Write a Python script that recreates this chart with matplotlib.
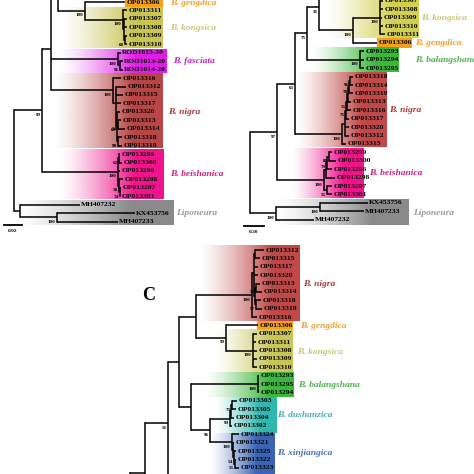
import numpy as np
import matplotlib.pyplot as plt
from matplotlib.colors import to_rgb

plt.rcParams['font.family'] = ['Liberation Serif', 'DejaVu Serif']

# ---- tree data: leaf = (name, tip_x); node = (x, support, [children]) ----
# panel A (ML tree, scale 0.02)
a_hidden = (95, "", [("", 120), ("", 120), ("", 120)])
a_gengdica = ("OP013306", 125)
a_kongsica = (123, "100", [("OP013311", 127),
                           (124, "", [("OP013307", 127), ("OP013308", 127),
                                      (125, "68", [("OP013309", 127), ("OP013310", 127)])])])
a_fasciata = (118, "100", [("ROD1015-20", 121),
                           (120, "91", [("ROD1013-20", 123), ("ROD1014-20", 123)])])
a_nigra = (113, "100", [("OP013316", 121),
                        (116, "", [("OP013312", 126), ("OP013315", 123), ("OP013317", 121),
                                   (117, "69", [("OP013320", 120),
                                                (118, "54", [("OP013313", 121), ("OP013314", 125)]),
                                                (118, "98", [("OP013318", 122), ("OP013319", 122)])])])])
a_beishanica = (118, "100", [(119, "62", [("OP013299", 120), ("OP013300", 122)]),
                             ("OP013296", 120),
                             (119, "50", [("OP013298", 123),
                                          (120, "74", [("OP013297", 121), ("OP013301", 120)])])])
a_lipo = (20, "", [("MH407232", 80), (57, "100", [("KX453756", 135), ("MH407233", 118)])])
tree_a = (14, "", [(42, "99", [(51, "", [(58, "", [a_hidden, (85, "100", [a_gengdica, a_kongsica])]),
                                         a_fasciata, a_nigra]),
                               a_beishanica]),
                   a_lipo])

# panel B (scale 0.20)
b_hidden = (100, "", [("", 130), ("", 130), ("", 130)])
b_kongsica = (143, "100", [("OP013307", 146), ("OP013308", 146), ("OP013309", 145),
                           ("OP013310", 146), ("OP013311", 148)])
b_gengdica = ("OP013306", 140)
b_balang = (123, "100", [("OP013293", 127), ("OP013294", 127), ("OP013295", 127)])
b_nigra = (105, "100", [(108, "", [(109, "75", [(110, "55", [(111, "", [(112, "78", [(113, "96", [("OP013318", 116), ("OP013314", 116)]),
                                                                                       ("OP013319", 116)]),
                                                                         ("OP013313", 114)]),
                                                               ("OP013316", 114)]),
                                                 ("OP013317", 112)]),
                                   ("OP013320", 112), ("OP013312", 112)]),
                        ("OP013315", 109)])
b_beish = (87, "100", [(89, "", [(90, "79", [(92, "88", [("OP013299", 95), ("OP013300", 99)]),
                                             ("OP013296", 95)]),
                                 ("OP013298", 98)]),
                       (90, "55", [("OP013297", 95), ("OP013301", 95)])])
b_lipo = (39, "100", [(83, "100", [("KX453756", 131), ("MH407233", 127)]), ("MH407232", 77)])
tree_b = (13, "", [(40, "97", [(58, "63", [(70, "75", [(82, "33", [b_hidden, (116, "100", [b_kongsica, b_gengdica])]),
                                                       b_balang]),
                                           b_nigra]),
                               b_beish]),
                   b_lipo])

# panel C
c_nigra = (252, "100", [(254, "", [(255, "", [("OP013312", 264), ("OP013315", 260)]),
                                   ("OP013317", 258), ("OP013320", 258),
                                   (255, "", [(256, "57", [("OP013313", 260), ("OP013314", 262)]),
                                              (256, "97", [("OP013318", 261), ("OP013319", 262)])])]),
                        ("OP013316", 257)])
c_gengdica = ("OP013306", 258)
c_kongsica = (253, "100", [("OP013307", 257), ("OP013311", 256), ("OP013308", 257),
                           ("OP013309", 257), ("OP013310", 257)])
c_balang = (258, "100", [("OP013293", 259), ("OP013295", 259), ("OP013294", 259)])
c_dush = (230, "99", [(231, "", [(232, "73", [("OP013303", 237), ("OP013305", 236)]), ("OP013304", 234)]),
                      ("OP013302", 232)])
c_xinj = (232, "100", [("OP013324", 239),
                       (233, "", [("OP013321", 234),
                                  (234, "54", [("OP013325", 236),
                                               (235, "55", [("OP013322", 236), ("OP013323", 239)])])])])
c_hidden1 = (240, "", [("", 260)] * 3)
c_hidden2 = (240, "", [("", 260)] * 6)
c_hidden3 = (60, "", [("", 150)] * 3)
tree_c = (130, "", [(145, "", [(168, "56", [(179, "", [(196, "", [c_nigra, (226, "99", [c_gengdica, c_kongsica])]),
                                                       (191, "", [c_balang, (210, "96", [c_dush, c_xinj])])]),
                                            c_hidden1]),
                               c_hidden2]),
                    c_hidden3])

# rows: (first y, row step, index of first leaf)
rows_a = (2.0, 8.45, -3)
rows_b = (0.8, 8.42, -3)
rows_c = (250.0, 8.38, 0)

# clade shading: (x0, x1, y0, y1, colour, gradient)
boxes_a = [(125, 163, -2, 6.5, "#f5a11c", False),
           (60, 163, 6.5, 47.5, "#c9c557", True),
           (60, 167, 48.5, 72.5, "#e01ee6", True),
           (55, 163, 73.5, 148.5, "#b84646", True),
           (60, 164, 149.5, 199.5, "#f0148c", True),
           (18, 174, 200, 224.5, "#8a8a8a", True)]
boxes_b = [(90, 182, -5, 37.5, "#d2d050", True),
           (140, 175, 38, 47.5, "#f5a11c", False),
           (75, 162, 47.5, 72, "#3cb83c", True),
           (60, 150, 72.5, 147.5, "#c04848", True),
           (55, 127, 148, 198, "#f0148c", True),
           (40, 172, 199, 224.5, "#8a8a8a", True)]
boxes_c = [(200, 300, 245, 321, "#c04848", True),
           (257, 293, 321, 330, "#f5a11c", False),
           (215, 293, 330, 372.5, "#c9c557", True),
           (205, 294, 372.5, 397.5, "#3cb83c", True),
           (215, 277, 397.5, 433, "#30b8b0", True),
           (210, 275, 433, 480, "#3a64b4", True)]

# clade names: (text, x, y, colour)
names_a = [("B. gengdica", 170, 3, "#f0a030"), ("B. kongsica", 170, 28, "#c8c878"),
           ("B. fasciata", 173, 61, "#c028c8"), ("B. nigra", 168, 112, "#a83c3c"),
           ("B. beishanica", 170, 174, "#d0207f"), ("Liponeura", 176, 213, "#9a9a9a")]
names_b = [("B. kongsica", 184, 18, "#c8c878"), ("B. gengdica", 178, 43, "#f0a030"),
           ("B. balangshana", 178, 60, "#50b050"), ("B. nigra", 152, 110, "#a83c3c"),
           ("B. beishanica", 132, 173, "#d0207f"), ("Liponeura", 176, 213, "#9a9a9a")]
names_c = [("B. nigra", 303, 284, "#a83c3c"), ("B. gengdica", 300, 326, "#f0a030"),
           ("B. kongsica", 297, 352, "#c8c878"), ("B. balangshana", 298, 385, "#50b050"),
           ("B. dushanzica", 277, 415, "#40b0b0"), ("B. xinjiangica", 277, 453, "#4a70b0")]

# scale bars: (x0, x1, y, label)
scale_a = (4, 22, 225, "0.02")
scale_b = (7, 27, 226, "0.20")


def shade(ax, box, ox):
    x0, x1, y0, y1, col, grad = box
    n = 256
    t = np.linspace(0, 1, n)
    alpha = np.clip(t / 0.72, 0, 1) ** 1.3 if grad else np.ones(n)
    img = np.zeros((1, n, 4))
    img[..., :3] = to_rgb(col)
    img[..., 3] = alpha
    ax.imshow(img, extent=[x0 + ox, x1 + ox, y1, y0], aspect='auto',
              interpolation='bilinear', zorder=0)


def draw(ax, node, parent_x, ox, counter, rows):
    y0, dy, _ = rows
    if isinstance(node[0], str):
        name, tip = node
        y = y0 + dy * counter[0]
        counter[0] += 1
        ax.plot([parent_x + ox, tip + ox], [y, y], color='black', lw=1.1,
                solid_capstyle='butt', zorder=2)
        if name:
            ax.text(tip + ox + 1.2, y, name, fontsize=5.4, fontweight='bold',
                    va='center', ha='left', zorder=3)
        return y
    x, sup, kids = node
    ys = [draw(ax, k, x, ox, counter, rows) for k in kids]
    ax.plot([x + ox, x + ox], [min(ys), max(ys)], color='black', lw=1.1,
            solid_capstyle='projecting', zorder=2)
    y = float(np.mean(ys))
    ax.plot([parent_x + ox, x + ox], [y, y], color='black', lw=1.1,
            solid_capstyle='butt', zorder=2)
    if sup:
        ax.text(x + ox - 1.5, y + 4.5, sup, fontsize=3.6, fontweight='bold',
                ha='right', va='center', zorder=3)
    return y


def panel(ax, tree, rows, boxes, names, ox, scale=None):
    for b in boxes:
        shade(ax, b, ox)
    draw(ax, tree, tree[0], ox, [rows[2]], rows)
    for txt, x, y, col in names:
        ax.text(x + ox, y, txt, fontsize=6.8, fontweight='bold', style='italic',
                color=col, va='center', ha='left', zorder=3)
    if scale:
        x0, x1, y, lab = scale
        ax.plot([x0 + ox, x1 + ox], [y, y], color='black', lw=1.3)
        ax.text((x0 + x1) / 2 + ox, y + 5.5, lab, fontsize=3.8, fontweight='bold',
                ha='center', va='center')


fig = plt.figure(figsize=(4.74, 4.74), dpi=100)
ax = fig.add_axes([0, 0, 1, 1])
panel(ax, tree_a, rows_a, boxes_a, names_a, 0, scale_a)
panel(ax, tree_b, rows_b, boxes_b, names_b, 237, scale_b)
panel(ax, tree_c, rows_c, boxes_c, names_c, 0)
ax.text(149, 295, "C", fontsize=13, fontweight='bold', ha='center', va='center')

ax.set_xlim(0, 474)
ax.set_ylim(474, 0)
ax.axis('off')
fig.savefig("out.png", dpi=100)
